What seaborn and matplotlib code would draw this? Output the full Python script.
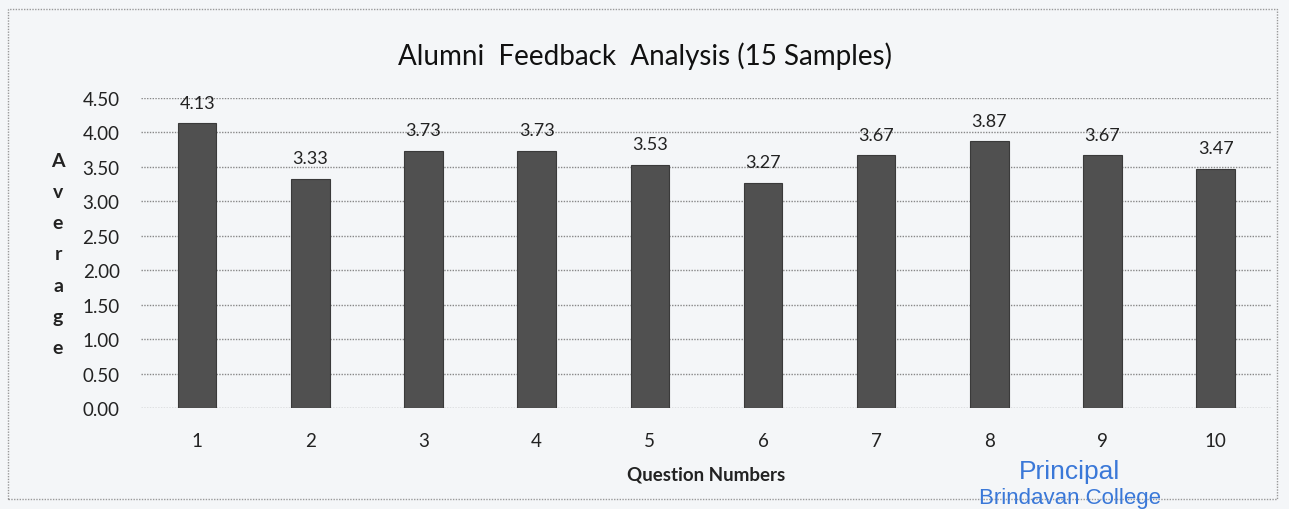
import matplotlib
matplotlib.use('Agg')
import matplotlib.pyplot as plt
import seaborn as sns
import pandas as pd

# values
questions = ['1', '2', '3', '4', '5', '6', '7', '8', '9', '10']
averages = [4.13, 3.33, 3.73, 3.73, 3.53, 3.27, 3.67, 3.87, 3.67, 3.47]
y_ticks = [0.0, 0.5, 1.0, 1.5, 2.0, 2.5, 3.0, 3.5, 4.0, 4.5]

df = pd.DataFrame({'Question': questions, 'Average': averages})

sns.set_style('white')
plt.rcParams['font.family'] = ['Lato', 'DejaVu Sans']

fig = plt.figure(figsize=(12.89, 5.10), dpi=100)
fig.patch.set_facecolor('#f4f6f8')
ax = fig.add_axes([0.109, 0.198, 0.878, 0.608])
ax.set_facecolor('#f4f6f8')

sns.barplot(data=df, x='Question', y='Average', color='#505050',
            width=0.34, edgecolor='#3a3a3a', linewidth=0.8, ax=ax, zorder=3)

for i, v in enumerate(averages):
    ax.annotate(f'{v:.2f}', (i, v), xytext=(0, 9), textcoords='offset points',
                ha='center', va='bottom', fontsize=13, color='#222222')

ax.set_ylim(0, 4.5)
ax.set_yticks(y_ticks)
ax.set_yticklabels([f'{t:.2f}' for t in y_ticks], fontsize=13.5, color='#222222')
ax.tick_params(axis='x', labelsize=13.5, colors='#222222', length=0, pad=17)
ax.tick_params(axis='y', length=0, pad=15)
ax.yaxis.grid(True, linestyle=(0, (1, 1)), color='#888888', linewidth=1, zorder=0)
for s in ax.spines.values():
    s.set_visible(False)

ax.set_xlabel('Question Numbers', fontsize=13.5, fontweight='bold', labelpad=12, color='#222222')
ax.set_ylabel('')
fig.text(0.045, 0.5, 'A\nv\ne\nr\na\ng\ne', ha='center', va='center',
         fontsize=14, fontweight='bold', linespacing=2.0, color='#222222')

fig.text(0.5, 0.89, 'Alumni  Feedback  Analysis (15 Samples)', ha='center', va='center',
         fontsize=20, color='#111111')

# stamp text at the bottom right
fig.text(0.83, 0.075, 'Principal', ha='center', va='center', fontsize=19,
         color='#3a78d8', family=['Liberation Sans', 'DejaVu Sans'])
fig.text(0.83, 0.022, 'Brindavan College', ha='center', va='center', fontsize=16,
         color='#3a78d8', family=['Liberation Sans', 'DejaVu Sans'])

# dotted border around the chart area
border = plt.Rectangle((0.006, 0.02), 0.985, 0.96, transform=fig.transFigure,
                       fill=False, linestyle=(0, (1, 1)), edgecolor='#999999', linewidth=1)
fig.add_artist(border)

fig.savefig('out.png', dpi=100, facecolor=fig.get_facecolor())
